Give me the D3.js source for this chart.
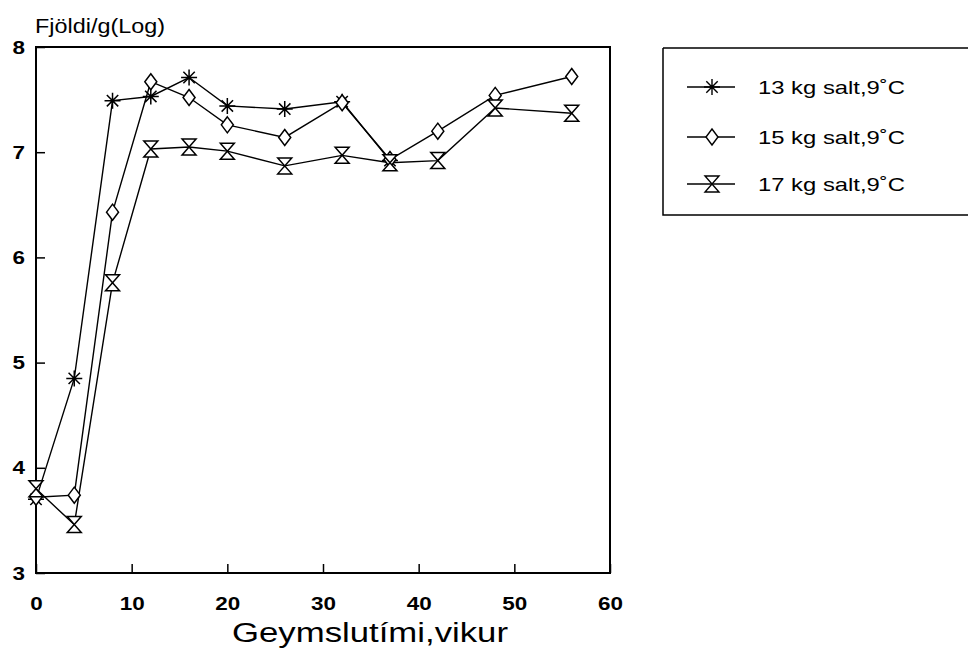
<!DOCTYPE html>
<html><head><meta charset="utf-8">
<script src="https://cdn.jsdelivr.net/npm/d3@7"></script>
<style>body{margin:0;background:#fff}svg{display:block}text{font-family:"Liberation Sans",Arial,sans-serif;fill:#000}</style>
</head><body>
<svg id="c" width="968" height="654"></svg>
<script>
const weeks = [0,4,8,12,16,20,26,32,37,42,48,56];
const salt13 = [3.70,4.85,7.49,7.53,7.71,7.44,7.41,7.48,6.92];
const salt15 = [3.72,3.74,6.43,7.67,7.52,7.26,7.14,7.47,6.93,7.20,7.54,7.72];
const salt17 = [3.80,3.46,5.76,7.03,7.05,7.01,6.87,6.97,6.90,6.92,7.42,7.37];
const seriesNames = ["13 kg salt,9\u02DAC","15 kg salt,9\u02DAC","17 kg salt,9\u02DAC"];
const markerTypes = ["star","diamond","hourglass"];
const xTicks = [0,10,20,30,40,50,60];
const yTicks = [3,4,5,6,7,8];
const yTitle = "Fjöldi/g(Log)";
const xTitle = "Geymslutími,vikur";

const svg = d3.select("#c");
const x = d3.scaleLinear().domain([0,60]).range([36,610]);
const y = d3.scaleLinear().domain([3,8]).range([573,47]);

function markerPath(type){
  if(type==="star"){
    const r=8, d=5.7;
    return `M0,${-r}V${r}M${-r},0H${r}M${-d},${-d}L${d},${d}M${-d},${d}L${d},${-d}`;
  }
  if(type==="diamond") return "M0,-8L6,0L0,8L-6,0Z";
  return "M-7,-8H7L-7,8H7Z";
}

// frame
svg.append("rect").attr("x",x(0)).attr("y",y(8)).attr("width",x(60)-x(0)).attr("height",y(3)-y(8))
  .attr("fill","none").attr("stroke","#000").attr("stroke-width",2);

function styleTicks(sel){
  sel.selectAll("text").style("font-size","19px").style("font-weight","bold")
    .style("font-family","Liberation Sans, Arial")
    .attr("textLength",function(){return 12.5*this.textContent.length;})
    .attr("lengthAdjust","spacingAndGlyphs");
  sel.selectAll("line").attr("stroke-width",1.5);
  sel.select(".domain").remove();
}

const xAxis = svg.append("g").attr("transform",`translate(0,${y(3)})`)
  .call(d3.axisBottom(x).tickValues(xTicks).tickSizeInner(-9).tickSizeOuter(0).tickPadding(24).tickFormat(d3.format("d")));
styleTicks(xAxis);

const yAxis = svg.append("g").attr("transform",`translate(${x(0)},0)`)
  .call(d3.axisLeft(y).tickValues(yTicks).tickSizeInner(-9).tickSizeOuter(0).tickPadding(11).tickFormat(d3.format("d")));
styleTicks(yAxis);

svg.append("text").attr("x",35).attr("y",33).style("font-size","21px")
  .attr("textLength",130).attr("lengthAdjust","spacingAndGlyphs").text(yTitle);
svg.append("text").attr("x",232).attr("y",642).style("font-size","27px")
  .attr("textLength",276).attr("lengthAdjust","spacingAndGlyphs").text(xTitle);

const allSeries = [salt13, salt15, salt17];
const line = d3.line().x(d=>x(d[0])).y(d=>y(d[1]));
allSeries.forEach((vals,i)=>{
  const pts = vals.map((v,j)=>[weeks[j],v]);
  svg.append("path").attr("d",line(pts)).attr("fill","none").attr("stroke","#000").attr("stroke-width",1.4);
});
allSeries.forEach((vals,i)=>{
  const pts = vals.map((v,j)=>[weeks[j],v]);
  svg.append("g").selectAll("path").data(pts).join("path")
    .attr("transform",d=>`translate(${x(d[0])},${y(d[1])})`)
    .attr("d",markerPath(markerTypes[i]))
    .attr("fill",markerTypes[i]==="star"?"none":"#fff")
    .attr("stroke","#000").attr("stroke-width",1.5);
});

// legend
const lg = svg.append("g");
lg.append("path").attr("d","M663,48H970M663,48V215H970").attr("fill","none").attr("stroke","#000").attr("stroke-width",1.5);
const rowY = [87,137,184];
seriesNames.forEach((name,i)=>{
  lg.append("line").attr("x1",687).attr("x2",735).attr("y1",rowY[i]).attr("y2",rowY[i]).attr("stroke","#000").attr("stroke-width",1.4);
  lg.append("path").attr("transform",`translate(712,${rowY[i]})`).attr("d",markerPath(markerTypes[i]))
    .attr("fill",markerTypes[i]==="star"?"none":"#fff").attr("stroke","#000").attr("stroke-width",1.4);
  lg.append("text").attr("x",758).attr("y",rowY[i]+7).style("font-size","19px")
    .attr("textLength",147).attr("lengthAdjust","spacingAndGlyphs").text(name);
});
</script>
</body></html>
